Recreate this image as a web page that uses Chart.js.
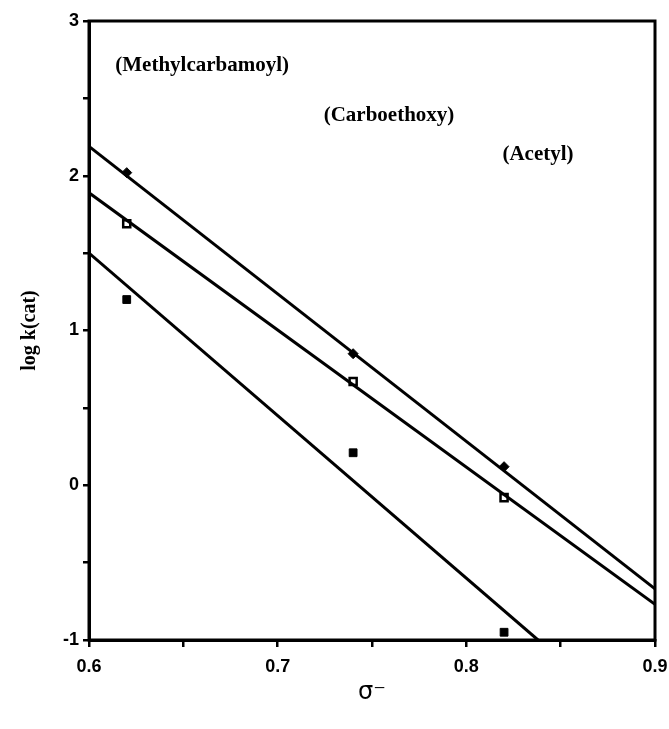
<!DOCTYPE html>
<html>
<head>
<meta charset="utf-8">
<script src="https://cdn.jsdelivr.net/npm/chart.js@4/dist/chart.umd.min.js"></script>
<style>
html,body{margin:0;padding:0;background:#fff;}
#wrap{width:669px;height:729px;position:relative;}
</style>
</head>
<body>
<div id="wrap"><canvas id="c" width="669" height="729"></canvas></div>
<script>
// Data
const sigmaX = [0.62, 0.74, 0.82];
const diamondY = [2.02, 0.85, 0.12];
const openSquareY = [1.69, 0.67, -0.08];
const filledSquareY = [1.20, 0.21, -0.95];

// fitted lines: [x, y] end points
const line1X = [0.6, 0.9];
const line1Y = [2.19, -0.67];
const line2X = [0.6, 0.9];
const line2Y = [1.89, -0.77];
const line3X = [0.6, 0.838];
const line3Y = [1.50, -1.0];

const labelTexts = ['(Methylcarbamoyl)', '(Carboethoxy)', '(Acetyl)'];
const labelX = [0.660, 0.759, 0.838];
const labelY = [2.715, 2.39, 2.135];

const xTicks = [0.6, 0.7, 0.8, 0.9];
const yTicks = [-1, 0, 1, 2, 3];

function pts(xs, ys){ return xs.map((x,i)=>({x:x, y:ys[i]})); }

const frameAndLabels = {
  id:'frameAndLabels',
  afterDatasetsDraw(chart){
    const {ctx, chartArea:a, scales} = chart;
    ctx.save();
    ctx.strokeStyle='#000';
    ctx.lineWidth=3;
    ctx.strokeRect(a.left, a.top, a.right-a.left, a.bottom-a.top);
    ctx.fillStyle='#000';
    ctx.font='bold 21px "Liberation Serif", serif';
    ctx.textAlign='center';
    ctx.textBaseline='middle';
    labelTexts.forEach((t,i)=>{
      ctx.fillText(t, scales.x.getPixelForValue(labelX[i]), scales.y.getPixelForValue(labelY[i]));
    });
    ctx.restore();
  }
};

const lineStyle = {showLine:true, borderColor:'#000', borderWidth:3, pointRadius:0, fill:false};

new Chart(document.getElementById('c'), {
  type:'scatter',
  data:{
    datasets:[
      Object.assign({data:pts(line1X,line1Y)}, lineStyle),
      Object.assign({data:pts(line2X,line2Y)}, lineStyle),
      Object.assign({data:pts(line3X,line3Y)}, lineStyle),
      {data:pts(sigmaX,diamondY), pointStyle:'rectRot', pointRadius:5, backgroundColor:'#000', borderColor:'#000', borderWidth:1},
      {data:pts(sigmaX,openSquareY), pointStyle:'rect', pointRadius:5, backgroundColor:'#fff', borderColor:'#000', borderWidth:2.5},
      {data:pts(sigmaX,filledSquareY), pointStyle:'rect', pointRadius:5.5, backgroundColor:'#000', borderColor:'#000', borderWidth:1}
    ]
  },
  options:{
    responsive:false,
    animation:false,
    layout:{padding:{left:0, right:14, top:21, bottom:0}},
    plugins:{legend:{display:false}, tooltip:{enabled:false}},
    scales:{
      x:{
        type:'linear', min:0.6, max:0.9,
        afterBuildTicks(s){ const t=[]; for(let i=0;i<=6;i++) t.push({value:+(0.6+i*0.05).toFixed(2)}); s.ticks=t; },
        afterFit(s){ s.height = 89; s.paddingLeft = 0; s.paddingRight = 0; },
        grid:{drawOnChartArea:false, drawTicks:true, tickLength:7, color:'#000', lineWidth:2.5},
        border:{display:true, color:'#000', width:3},
        ticks:{
          color:'#000', padding:9, maxRotation:0, autoSkip:false,
          font:{family:'"Liberation Sans Narrow", "Liberation Sans", Arial, sans-serif', weight:'bold', size:18},
          callback(v){ const r=Math.round(v*100); return (r%10===0)? (v).toFixed(1) : ''; }
        },
        title:{display:true, text:'σ⁻', color:'#000', font:{family:'"DejaVu Sans", sans-serif', size:24}, padding:{top:0,bottom:22}}
      },
      y:{
        type:'linear', min:-1, max:3,
        afterBuildTicks(s){ const t=[]; for(let i=0;i<=8;i++) t.push({value:-1+i*0.5}); s.ticks=t; },
        afterFit(s){ s.width = 89; s.paddingTop = 0; s.paddingBottom = 0; },
        grid:{drawOnChartArea:false, drawTicks:true, tickLength:6, color:'#000', lineWidth:2.5},
        border:{display:true, color:'#000', width:3},
        ticks:{
          color:'#000', padding:4, autoSkip:false,
          font:{family:'"Liberation Sans Narrow", "Liberation Sans", Arial, sans-serif', weight:'bold', size:18},
          callback(v){ return Number.isInteger(v) ? String(v) : ''; }
        },
        title:{display:true, text:'log k(cat)', color:'#000', font:{family:'"Liberation Serif", serif', weight:'bold', size:20}, padding:{top:18,bottom:0}}
      }
    }
  },
  plugins:[frameAndLabels]
});
</script>
</body>
</html>
